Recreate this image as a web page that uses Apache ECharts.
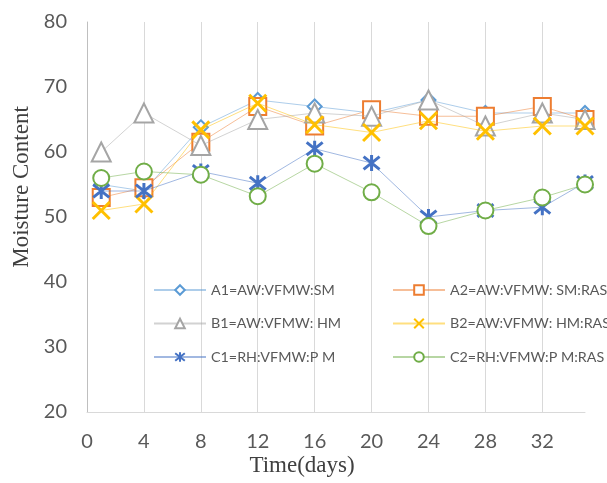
<!DOCTYPE html>
<html>
<head>
<meta charset="utf-8">
<script src="https://cdn.jsdelivr.net/npm/echarts@6/dist/echarts.min.js"></script>
<style>
html,body{margin:0;padding:0;background:#fff;}
#chart{width:607px;height:483px;}
</style>
</head>
<body>
<div id="chart"></div>
<script>
var days = [1, 4, 8, 12, 16, 20, 24, 28, 32, 35];
var seriesNames = ['A1=AW:VFMW:SM', 'A2=AW:VFMW: SM:RAS', 'B1=AW:VFMW: HM', 'B2=AW:VFMW: HM:RAS', 'C1=RH:VFMW:P M', 'C2=RH:VFMW:P M:RAS'];
var A1 = [55, 54, 63.8, 68, 67, 66, 68, 66, 66, 66];
var A2 = [53, 54.5, 61.5, 67, 64, 66.5, 65.5, 65.5, 67, 65];
var B1 = [60, 66, 61, 65, 66, 65.5, 68, 64, 66, 65];
var B2 = [51, 52, 63.4, 67.5, 64.2, 63, 64.8, 63.2, 64, 64];
var C1 = [54, 54, 57, 55.2, 60.5, 58.3, 50, 51, 51.5, 55.3];
var C2 = [56, 57, 56.5, 53.2, 58.2, 53.8, 48.6, 51, 53, 55];
var xTicks = [0, 4, 8, 12, 16, 20, 24, 28, 32];
var yTicks = [20, 30, 40, 50, 60, 70, 80];

var colors = ['#5B9BD5', '#ED7D31', '#A5A5A5', '#FFC000', '#4472C4', '#70AD47'];
var symbols = ['emptyDiamond', 'emptyRect', 'emptyTriangle',
  'path://M0,0L10,10M10,0L0,10',
  'path://M1,1L9,9M9,1L1,9M5,0L5,10',
  'emptyCircle'];
var sizes = [14, 17, 19, 17, 16, 16];
var allData = [A1, A2, B1, B2, C1, C2];

function pairs(vals) {
  return days.map(function (d, i) { return [d, vals[i]]; });
}

var series = allData.map(function (vals, k) {
  return {
    name: seriesNames[k],
    type: 'line',
    data: pairs(vals),
    symbol: symbols[k],
    symbolSize: sizes[k],
    showAllSymbol: true,
    lineStyle: { color: colors[k], width: 1, opacity: 0.5 },
    itemStyle: { color: colors[k], borderColor: colors[k], borderWidth: 3 },
    emphasis: { disabled: true },
    z: 2 + k
  };
});

var chart = echarts.init(document.getElementById('chart'), null, { renderer: 'canvas' });
var legendCommon = {
  orient: 'vertical',
  padding: 0,
  itemWidth: 52,
  itemHeight: 12,
  itemGap: 17.5,
  textStyle: { color: '#595959', fontSize: 14.3, fontFamily: 'Lato', lineHeight: 16 },
  selectedMode: false
};
chart.setOption({
  animation: false,
  backgroundColor: '#fff',
  grid: { left: 87, right: 22, top: 22, bottom: 71, containLabel: false },
  xAxis: {
    type: 'value', min: 0, max: 35, interval: 4,
    axisLine: { show: true, lineStyle: { color: '#D9D9D9', width: 1 } },
    axisTick: { show: false },
    axisLabel: {
      showMaxLabel: false, color: '#595959', fontSize: 20, fontFamily: 'Lato', margin: 20,
      formatter: function (v) { return xTicks.indexOf(v) >= 0 ? String(v) : ''; }
    },
    splitLine: { show: true, showMaxLine: false, lineStyle: { color: '#D9D9D9', width: 1 } }
  },
  yAxis: {
    type: 'value', min: 20, max: 80, interval: 10,
    axisLine: { show: true, lineStyle: { color: '#BFBFBF', width: 1 } },
    axisTick: { show: false },
    axisLabel: {
      color: '#595959', fontSize: 20, fontFamily: 'Lato', margin: 20,
      formatter: function (v) { return yTicks.indexOf(v) >= 0 ? String(v) : ''; }
    },
    splitLine: { show: false }
  },
  legend: [
    Object.assign({ left: 153, top: 282, data: [seriesNames[0], seriesNames[2], seriesNames[4]] }, legendCommon),
    Object.assign({ left: 392, top: 282, data: [seriesNames[1], seriesNames[3], seriesNames[5]] }, legendCommon)
  ],
  graphic: [
    {
      type: 'text', x: 22, y: 187, rotation: Math.PI / 2,
      style: { text: 'Moisture Content', font: '23px "Liberation Serif"', fill: '#404040', align: 'center', verticalAlign: 'middle' }
    },
    {
      type: 'text', x: 302, y: 466,
      style: { text: 'Time(days)', font: '23px "Liberation Serif"', fill: '#404040', align: 'center', verticalAlign: 'middle' }
    }
  ],
  series: series
});
</script>
</body>
</html>
